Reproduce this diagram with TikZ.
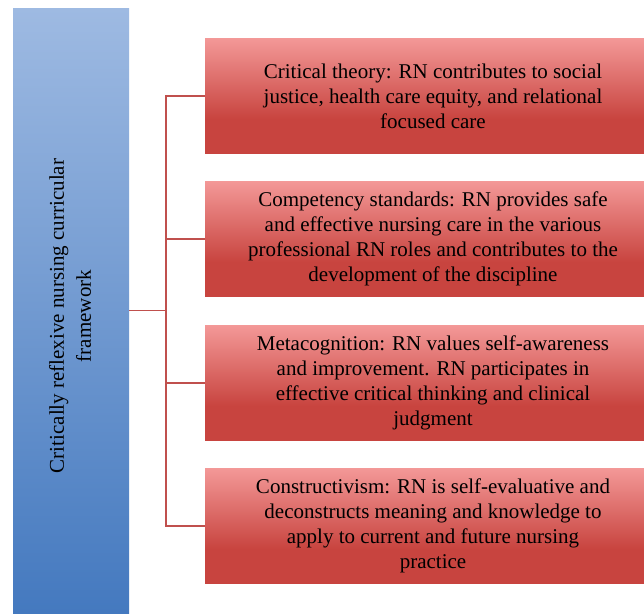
\documentclass[tikz,border=0pt]{standalone}
\usepackage{fontspec}
\setmainfont{Liberation Serif}
\definecolor{boxred}{HTML}{C8443F}
\definecolor{boxpink}{HTML}{F39897}
\definecolor{frametop}{HTML}{9EBAE2}
\definecolor{framebot}{HTML}{4479BF}
\definecolor{linkred}{HTML}{C0504D}
\pgfdeclareverticalshading{redfade}{100bp}{color(0bp)=(boxred); color(40bp)=(boxred); color(75bp)=(boxpink); color(100bp)=(boxpink)}
\tikzset{
  theme/.style={shading=redfade, minimum width=456pt, minimum height=115pt,
    inner sep=0pt, outer sep=0pt, align=center,
    font=\fontsize{21}{25}\selectfont},
  link/.style={draw=linkred, line width=1.4pt}
}
\begin{document}
\begin{tikzpicture}[x=1pt, y=-1pt]
  \useasboundingbox (0,0) rectangle (644,614);

  \node[top color=frametop, bottom color=framebot, minimum width=116pt,
        minimum height=605pt, inner sep=0pt, outer sep=0pt] (frame) at (71, 310.5) {};
  \node[rotate=90, align=center, font=\fontsize{21}{27}\selectfont] (frametext) at (70, 316)
        {Critically reflexive nursing curricular\\framework};

  \node[theme] (crit)  at (433, 96)    {Critical theory: RN contributes to social\\justice, health care equity, and relational\\focused care};
  \node[theme] (comp)  at (433, 239)   {Competency standards: RN provides safe\\and effective nursing care in the various\\professional RN roles and contributes to the\\development of the discipline};
  \node[theme] (meta)  at (433, 383)   {Metacognition: RN values self-awareness\\and improvement. RN participates in\\effective critical thinking and clinical\\judgment};
  \node[theme] (const) at (433, 526)   {Constructivism: RN is self-evaluative and\\deconstructs meaning and knowledge to\\apply to current and future nursing\\practice};

  \coordinate (hub) at (166, 310.5);
  \draw[link] (frame.east) -- (hub);
  \draw[link] (hub) |- (crit.west);
  \draw[link] (hub) |- (comp.west);
  \draw[link] (hub) |- (meta.west);
  \draw[link] (hub) |- (const.west);
\end{tikzpicture}
\end{document}
